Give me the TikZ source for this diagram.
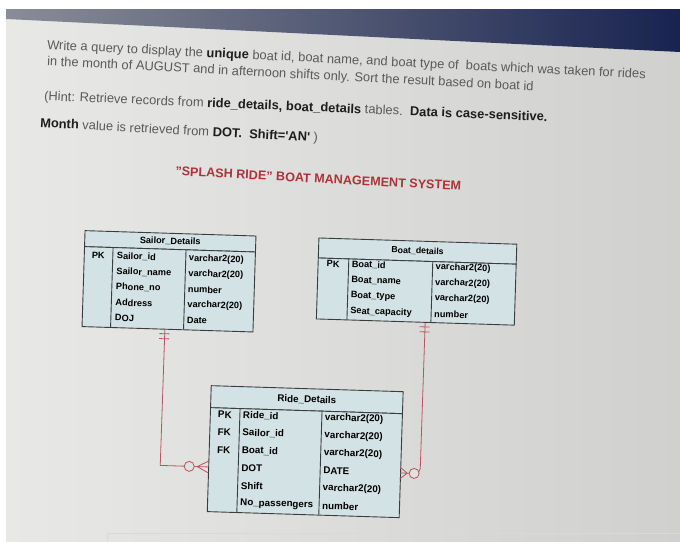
\documentclass[tikz,border=0pt]{standalone}
\usepackage{fontspec}
\setmainfont{Liberation Sans}
\usetikzlibrary{calc,positioning}
\definecolor{scrL}{HTML}{E8E8E6}
\definecolor{scrR}{HTML}{D0D0CF}
\definecolor{bandL}{HTML}{8A8D97}
\definecolor{bandM}{HTML}{233677}
\definecolor{bandR}{HTML}{182350}
\definecolor{qtext}{HTML}{5A5A5A}
\definecolor{qbold}{HTML}{1E1E1E}
\definecolor{splash}{HTML}{A93539}
\definecolor{tblfill}{HTML}{D3E2E4}
\definecolor{tblline}{HTML}{3A3D40}
\definecolor{relred}{HTML}{B5575A}
\newcommand\qb[1]{\textcolor{qbold}{\textbf{#1}}}

\begin{document}
\begin{tikzpicture}[x=1pt, y=-1pt,
  qline/.style={anchor=west, inner sep=0pt, text=qtext, font=\fontsize{12.9}{14}\selectfont, rotate=-2.8},
  hdr/.style={draw=tblline, fill=tblfill, line width=0.9pt, anchor=north west, inner sep=0pt, font=\bfseries\fontsize{9.2}{10}\selectfont},
  tblbody/.style={draw=tblline, fill=tblfill, line width=0.9pt, anchor=north west, inner sep=0pt},
  divider/.style={draw=tblline, line width=0.9pt},
  cell/.style={anchor=west, inner sep=0pt, font=\bfseries\fontsize{#1}{#1}\selectfont},
  cell/.default=9.2,
  keycell/.style={cell=#1, anchor=center},
  keycell/.default=9.2,
  rel/.style={draw=relred, line width=0.8pt},
  ocirc/.style={circle, draw=relred, line width=0.8pt, fill=scrL!70!scrR, minimum size=10pt, inner sep=0pt}
]
\useasboundingbox (0,0) rectangle (680,541);
\fill[white] (0,0) rectangle (680,541);
\shade[left color=scrL, right color=scrR] (6,9) rectangle (680,541);
\shade[left color=bandL, middle color=bandM, right color=bandR] (6,9) -- (680,9) -- (680,52) -- (6,19) -- cycle;
\draw[gray!30, line width=0.8pt] (107,541) -- (107,533) -- (680,533);

\node[qline] (q1) at (47,46) {Write a query to display the \qb{unique} boat id, boat name, and boat type of\ \ boats which was taken for rides};
\node[qline, rotate=-0.2] (q2) at (47,62) {in the month of AUGUST and in afternoon shifts only. Sort the result based on boat id};
\node[qline, rotate=0.4] (q3) at (44,97) {(Hint: Retrieve records from \qb{ride\_details, boat\_details} tables.\ \ \qb{Data is case-sensitive.}};
\node[qline, rotate=-0.2] (q4) at (40,124) {\qb{Month} value is retrieved from \qb{DOT.\ \ Shift=\textquotesingle AN\textquotesingle} )};

\begin{scope}[rotate around={-1.8:(300,380)}, transform shape]
\node[font=\bfseries\fontsize{12.6}{14}\selectfont, text=splash, rotate=-1.2] (title) at (312,178) {"SPLASH RIDE" BOAT MANAGEMENT SYSTEM};

\node[hdr, minimum width=171, minimum height=16] (sailor) at (80,237) {Sailor\_Details};
\node[tblbody, minimum width=171, minimum height=80] (sailorB) at (80,253) {};
\draw[divider] (109,253) -- (109,333) (182,253) -- (182,333);
\node[keycell] (sailorK1) at (94.5,262) {PK};
\foreach \n/\t [count=\i] in {Sailor\_id/varchar2(20), Sailor\_name/varchar2(20), Phone\_no/number, Address/varchar2(20), DOJ/Date} {
  \node[cell] (sailorN\i) at (113,{262+15.4*(\i-1)}) {\n};
  \node[cell] (sailorT\i) at (185,{262+15.4*(\i-1)}) {\t};
}

\node[hdr, minimum width=198, minimum height=20, font=\bfseries\fontsize{8.8}{10}\selectfont] (boat) at (314,237) {Boat\_details};
\node[tblbody, minimum width=198, minimum height=61] (boatB) at (314,257) {};
\draw[divider] (345,257) -- (345,318) (429,257) -- (429,318);
\node[keycell] (boatK1) at (329.5,263) {PK};
\foreach \n/\t [count=\i] in {Boat\_id/varchar2(20), Boat\_name/varchar2(20), Boat\_type/varchar2(20), Seat\_capacity/number} {
  \node[cell] (boatN\i) at (348,{263+15.6*(\i-1)}) {\n};
  \node[cell] (boatT\i) at (432,{263+15.6*(\i-1)}) {\t};
}

\node[hdr, minimum width=192, minimum height=22, font=\bfseries\fontsize{9.8}{10}\selectfont] (ride) at (211,388) {Ride\_Details};
\node[tblbody, minimum width=192, minimum height=104] (rideB) at (211,410) {};
\draw[divider] (241,410) -- (241,514) (323,410) -- (323,514);
\foreach \k [count=\i] in {PK, FK, FK} {
  \node[keycell=9.8] (rideK\i) at (226,{417+17.6*(\i-1)}) {\k};
}
\foreach \n/\t [count=\i] in {Ride\_id/varchar2(20), Sailor\_id/varchar2(20), Boat\_id/varchar2(20), DOT/DATE, Shift/varchar2(20), No\_passengers/number} {
  \node[cell=9.8] (rideN\i) at (244,{417+17.6*(\i-1)}) {\n};
  \node[cell=9.8] (rideT\i) at (326,{417+17.6*(\i-1)}) {\t};
}

\coordinate (sOut) at ($(sailorB.south west)!0.485!(sailorB.south east)$);
\coordinate (lBend) at (163,469.8);
\coordinate (lIn) at (211,469.8);
\draw[rel] (sOut) -- (lBend) -- (lIn);
\draw[rel] (158,338) -- (168,338) (158,343) -- (168,343);
\draw[rel] (211,464) -- (200,469.8) -- (211,475.6);
\node[ocirc] (lO) at (192,469.8) {};

\coordinate (bOut) at ($(boatB.south west)!0.55!(boatB.south east)$);
\coordinate (rBend) at (423,469.8);
\coordinate (rIn) at (403,469.8);
\draw[rel, rounded corners=5] (bOut) -- (rBend) -- (rIn);
\draw[rel] (418,323) -- (428,323) (418,328) -- (428,328);
\draw[rel] (403,464) -- (410,469.8) -- (403,475.6);
\node[ocirc] (rO) at (417,469.8) {};
\end{scope}
\end{tikzpicture}
\end{document}
